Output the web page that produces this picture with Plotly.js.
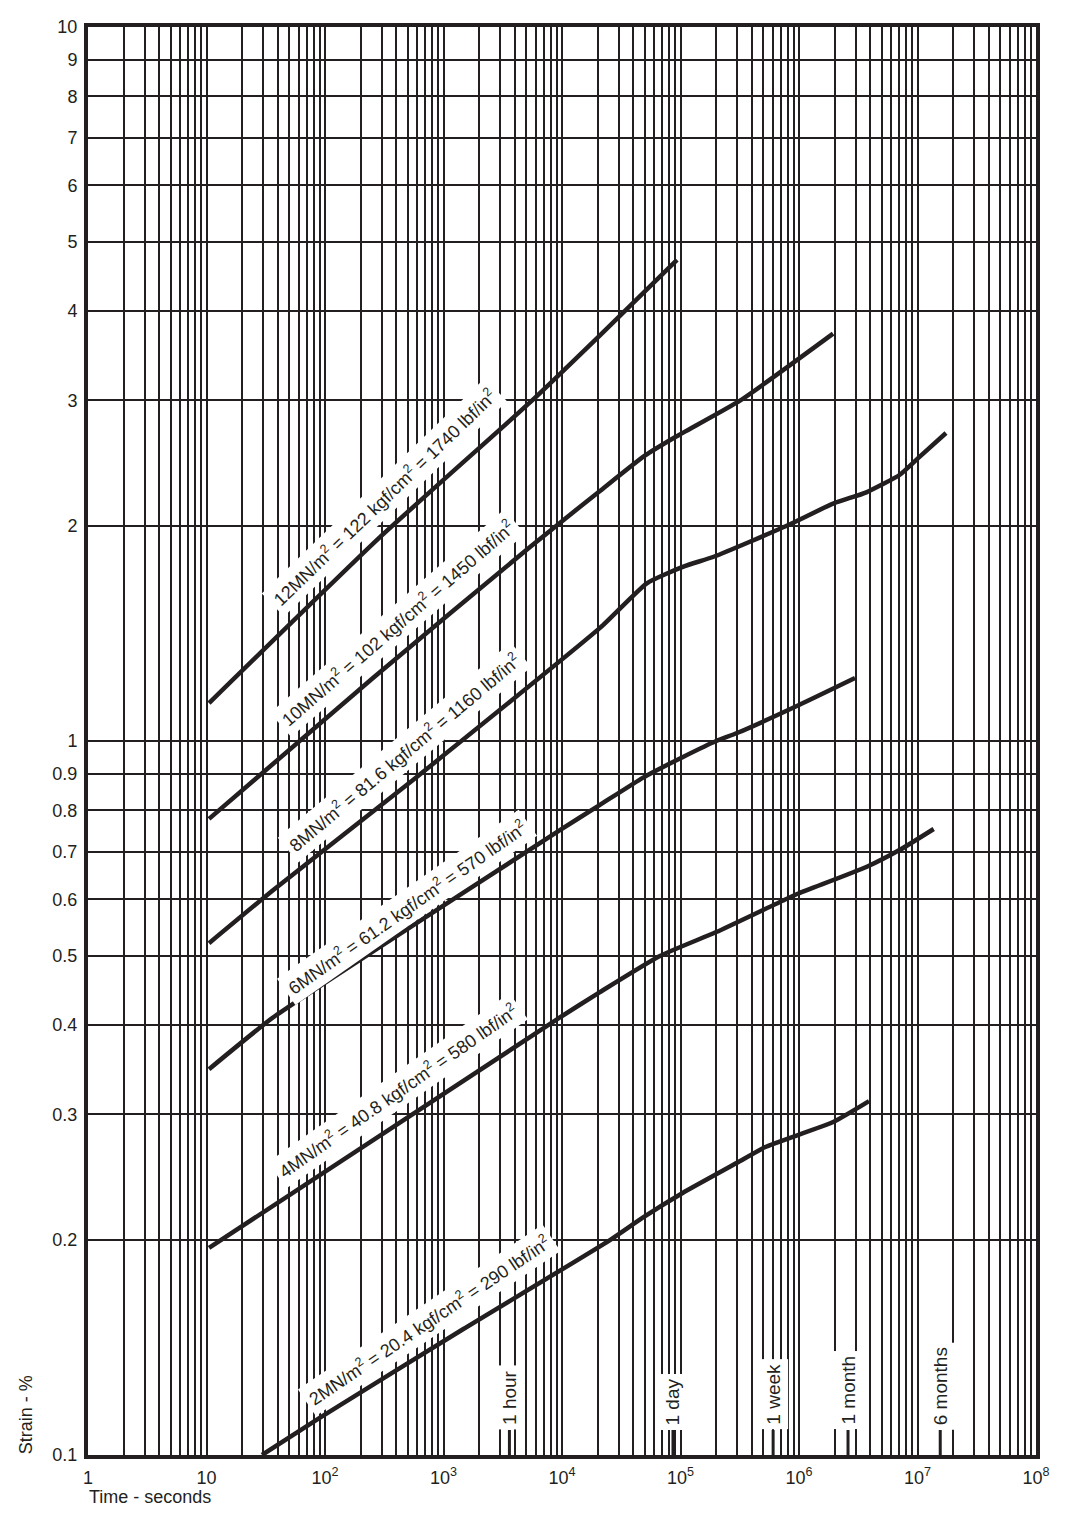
<!DOCTYPE html>
<html>
<head>
<meta charset="utf-8">
<script src="https://cdn.plot.ly/plotly-3.0.1.min.js"></script>
<style>html,body{margin:0;padding:0;background:#fff;}</style>
</head>
<body>
<div id="chart" style="width:1069px;height:1528px;"></div>
<script>
// ---- data (time in seconds, strain in %) ----
const t12 = [10.5, 291, 5370, 20900, 93500];
const s12 = [1.13, 1.93, 2.98, 3.70, 4.72];

const t10 = [10.5, 254, 5370, 20900, 50000, 92000, 320000, 1940000];
const s10 = [0.778, 1.225, 1.87, 2.24, 2.51, 2.67, 3.0, 3.72];

const t8 = [10.5, 36.4, 553, 20900, 52000, 106000, 193000, 780000, 1940000, 3700000, 7100000, 10400000, 17400000];
const s8 = [0.521, 0.618, 0.882, 1.44, 1.663, 1.755, 1.813, 2.0, 2.15, 2.23, 2.36, 2.50, 2.70];

const t6 = [10.5, 36.4, 291, 9600, 20900, 48000, 59000, 105000, 200000, 300000, 1000000, 2970000];
const s6 = [0.347, 0.41, 0.515, 0.75, 0.814, 0.888, 0.905, 0.95, 1.0, 1.026, 1.123, 1.225];

const t4 = [10.5, 9600, 20900, 67000, 200000, 750000, 1000000, 3700000, 7100000, 13700000];
const s4 = [0.195, 0.41, 0.445, 0.50, 0.54, 0.599, 0.612, 0.666, 0.704, 0.753];

const t2 = [29.4, 90.8, 1460, 25400, 48000, 105000, 300000, 520000, 1940000, 3900000];
const s2 = [0.1, 0.1128, 0.150, 0.2, 0.215, 0.233, 0.2566, 0.27, 0.2926, 0.313];

const curveLabels = [
  "12MN/m<sup>2</sup> = 122 kgf/cm<sup>2</sup> = 1740 lbf/in<sup>2</sup>",
  "10MN/m<sup>2</sup> = 102 kgf/cm<sup>2</sup> = 1450 lbf/in<sup>2</sup>",
  "8MN/m<sup>2</sup> = 81.6 kgf/cm<sup>2</sup> = 1160 lbf/in<sup>2</sup>",
  "6MN/m<sup>2</sup> = 61.2 kgf/cm<sup>2</sup> = 570 lbf/in<sup>2</sup>",
  "4MN/m<sup>2</sup> = 40.8 kgf/cm<sup>2</sup> = 580 lbf/in<sup>2</sup>",
  "2MN/m<sup>2</sup> = 20.4 kgf/cm<sup>2</sup> = 290 lbf/in<sup>2</sup>"
];

const timeMarks = [3600, 86400, 604800, 2592000, 15552000];
const timeLabels = ["1 hour", "1 day", "1 week", "1 month", "6 months"];

const xDecades = [1, 10, 100, 1000, 10000, 100000, 1000000, 10000000, 100000000];
const xDecadeLabels = ["1", "10", "10<sup>2</sup>", "10<sup>3</sup>", "10<sup>4</sup>", "10<sup>5</sup>", "10<sup>6</sup>", "10<sup>7</sup>", "10<sup>8</sup>"];

const yTickVals = [0.1, 0.2, 0.3, 0.4, 0.5, 0.6, 0.7, 0.8, 0.9, 1, 2, 3, 4, 5, 6, 7, 8, 9, 10];
const yTickText = ["0.1", "0.2", "0.3", "0.4", "0.5", "0.6", "0.7", "0.8", "0.9", "1", "2", "3", "4", "5", "6", "7", "8", "9", "10"];

// ---- build ----
const INK = '#231f20';
const FONT = 'Liberation Sans, Arial, Helvetica, sans-serif';

// minor gridlines at every 2..9 multiple inside each decade
const xMinorVals = [];
xDecades.slice(0, -1).forEach(d => { for (let m = 2; m <= 9; m++) xMinorVals.push(m * d); });

const curves = [[t12, s12], [t10, s10], [t8, s8], [t6, s6], [t4, s4], [t2, s2]];
const traces = curves.map(([t, s]) => ({
  x: t, y: s, type: 'scatter', mode: 'lines',
  line: {color: INK, width: 4.5, shape: 'spline', smoothing: 0.5},
  hoverinfo: 'skip'
}));

// short marker strokes under the time labels
const markTop = Math.pow(10, -1 + 25 / 714);
const mx = [], my = [];
timeMarks.forEach(t => { mx.push(t, t, null); my.push(0.1, markTop, null); });
traces.push({x: mx, y: my, type: 'scatter', mode: 'lines', line: {color: INK, width: 3}, hoverinfo: 'skip'});

// label placement (log10 coordinates for annotations on log axes) and angles
const labelPos = [
  {x: 2.50, y: 0.341, a: -44},
  {x: 2.61, y: 0.165, a: -41},
  {x: 2.67, y: -0.016, a: -40},
  {x: 2.69, y: -0.233, a: -35},
  {x: 2.62, y: -0.490, a: -35},
  {x: 2.875, y: -0.811, a: -34}
];

const annotations = curveLabels.map((txt, i) => ({
  text: txt, xref: 'x', yref: 'y', x: labelPos[i].x, y: labelPos[i].y,
  textangle: labelPos[i].a, showarrow: false, bgcolor: 'white', borderpad: 4,
  font: {family: FONT, size: 18, color: INK}, xanchor: 'center', yanchor: 'middle'
}));

timeMarks.forEach((t, i) => {
  annotations.push({
    text: timeLabels[i], xref: 'x', yref: 'paper', x: Math.log10(t), y: 0.0175,
    textangle: -90, showarrow: false, bgcolor: 'white', borderpad: 4,
    font: {family: FONT, size: 19, color: INK}, xanchor: 'center', yanchor: 'bottom'
  });
});

annotations.push({
  text: 'Strain - %', xref: 'paper', yref: 'paper', x: -0.066, y: -0.001,
  textangle: -90, showarrow: false, xanchor: 'center', yanchor: 'bottom',
  font: {family: FONT, size: 18, color: INK}
});
annotations.push({
  text: 'Time - seconds', xref: 'paper', yref: 'paper', x: -0.001, y: -0.0294,
  showarrow: false, xanchor: 'left', yanchor: 'middle',
  font: {family: FONT, size: 18, color: INK}
});

const axisCommon = {
  type: 'log', showgrid: true, gridcolor: INK, gridwidth: 2,
  showline: true, linecolor: INK, linewidth: 4, mirror: true,
  ticks: '', zeroline: false, tickmode: 'array',
  tickfont: {family: FONT, size: 18, color: INK}
};

const layout = {
  width: 1069, height: 1528,
  margin: {l: 88, r: 33, t: 27, b: 73, pad: 0},
  paper_bgcolor: 'white', plot_bgcolor: 'white',
  showlegend: false,
  font: {family: FONT, size: 18, color: INK},
  xaxis: Object.assign({}, axisCommon, {
    range: [0, 8], tickvals: xDecades, ticktext: xDecadeLabels, ticklabelstandoff: 3,
    minor: {tickmode: 'array', tickvals: xMinorVals, showgrid: true, gridcolor: INK, gridwidth: 2, ticks: ''}
  }),
  yaxis: Object.assign({}, axisCommon, {range: [-1, 1], tickvals: yTickVals, ticktext: yTickText, ticklabelstandoff: 3}),
  annotations: annotations
};

Plotly.newPlot('chart', traces, layout, {staticPlot: true, displayModeBar: false});
</script>
</body>
</html>
